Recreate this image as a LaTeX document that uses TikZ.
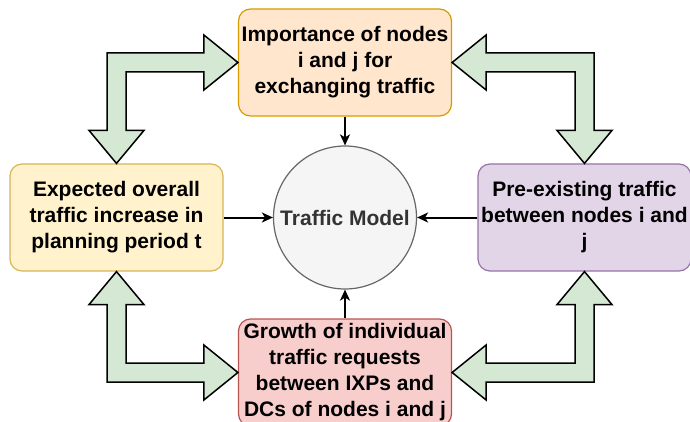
\documentclass[tikz,border=0pt]{standalone}
\usepackage{fontspec}
\setmainfont{Liberation Sans}
\usetikzlibrary{arrows.meta,calc}

\definecolor{impfill}{HTML}{FFE6CC}
\definecolor{impline}{HTML}{D79B00}
\definecolor{expfill}{HTML}{FFF2CC}
\definecolor{expline}{HTML}{D6B656}
\definecolor{prefill}{HTML}{E1D5E7}
\definecolor{preline}{HTML}{9673A6}
\definecolor{growfill}{HTML}{F8CECC}
\definecolor{growline}{HTML}{B85450}
\definecolor{modfill}{HTML}{F5F5F5}
\definecolor{modline}{HTML}{666666}
\definecolor{modtext}{HTML}{333333}
\definecolor{bendfill}{HTML}{D5E8D4}

\begin{document}
\begin{tikzpicture}[x=1pt,y=-1pt,
	box/.style={rounded corners=12pt, line width=1.2pt, minimum width=213pt, minimum height=107pt,
		inner sep=0pt, align=center, font=\bfseries\fontsize{21}{26}\selectfont},
	link/.style={line width=2pt, -{Stealth[length=11pt,width=10pt,inset=3pt]}},
	bentarrow/.style={fill=bendfill, draw=black, line width=1.5pt}]
	\useasboundingbox (0,0) rectangle (690,422);

	\node[box, fill=impfill, draw=impline] (imp) at (345,62.5) {Importance of nodes\\i and j for\\exchanging traffic};
	\node[box, fill=expfill, draw=expline] (expct) at (116.5,217.5) {Expected overall\\traffic increase in\\planning period t};
	\node[box, fill=prefill, draw=preline] (prex) at (584.5,217.5) {Pre-existing traffic\\between nodes i and\\j};
	\node[box, fill=growfill, draw=growline] (grow) at (345,372.5) {Growth of individual\\traffic requests\\between IXPs and\\DCs of nodes i and j};
	\node[circle, fill=modfill, draw=modline, line width=1.2pt, minimum size=143pt, inner sep=0pt,
		text=modtext, font=\bfseries\fontsize{21}{26}\selectfont] (model) at (345,217.5) {Traffic Model};

	\draw[link] (imp.south) -- (model.north);
	\draw[link] (expct.east) -- (model.west);
	\draw[link] (prex.west) -- (model.east);
	\draw[link] (grow.north) -- (model.south);

	% double headed bent arrows between neighbouring boxes
	\foreach \h/\v/\sx/\sy in {imp.west/expct.north/1/1, imp.east/prex.north/-1/1,
		grow.west/expct.south/1/-1, grow.east/prex.south/-1/-1}
		\draw[bentarrow] (\h) -- ($(\h)+(-34*\sx,-27.5*\sy)$) -- ($(\h)+(-34*\sx,-9.5*\sy)$)
			-- ($(\v |- \h)+(-9.5*\sx,-9.5*\sy)$) -- ($(\v)+(-9.5*\sx,-33*\sy)$)
			-- ($(\v)+(-27.5*\sx,-33*\sy)$) -- (\v) -- ($(\v)+(27.5*\sx,-33*\sy)$)
			-- ($(\v)+(9.5*\sx,-33*\sy)$) -- ($(\v |- \h)+(9.5*\sx,9.5*\sy)$)
			-- ($(\h)+(-34*\sx,9.5*\sy)$) -- ($(\h)+(-34*\sx,27.5*\sy)$) -- cycle;
\end{tikzpicture}
\end{document}
